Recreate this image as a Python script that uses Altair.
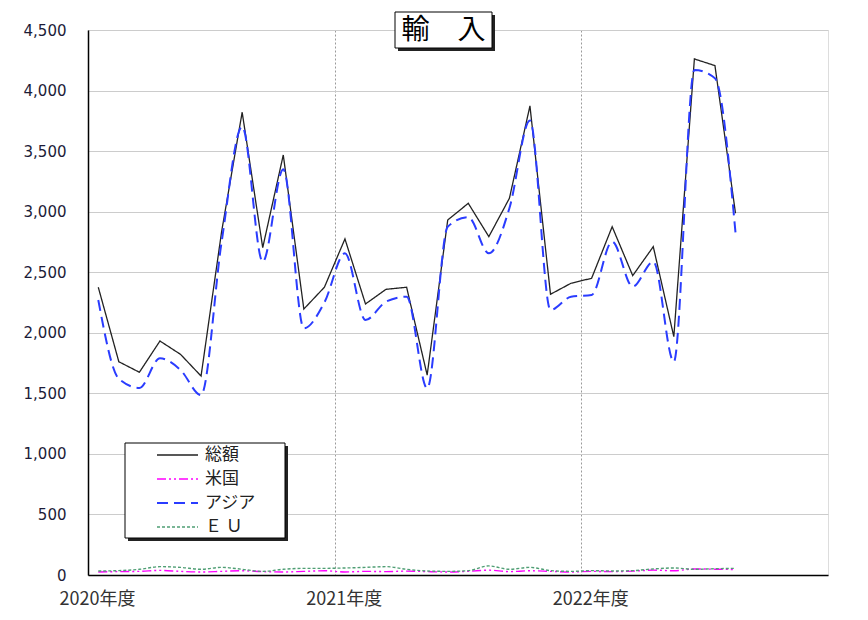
import json
import altair as alt
import pandas as pd

# ---- data (monthly, Apr 2020 .. Nov 2022) ----
months = list(range(32))
total = [2376, 1761, 1674, 1932, 1822, 1643, 2835, 3821, 2703, 3468, 2196, 2376,
         2775, 2238, 2359, 2376, 1651, 2931, 3069, 2794, 3110, 3873, 2318, 2409,
         2450, 2876, 2472, 2711, 1968, 4261, 4206, 2987]
us = [25, 28, 30, 38, 30, 25, 30, 35, 28, 25, 30, 35, 25, 30, 28, 32,
      28, 25, 30, 40, 28, 35, 30, 25, 30, 28, 32, 40, 35, 50, 48, 45]
asia = [2271, 1620, 1545, 1789, 1693, 1486, 2750, 3702, 2587, 3350, 2037, 2250,
        2656, 2106, 2257, 2298, 1542, 2876, 2954, 2656, 3028, 3752, 2188, 2298,
        2312, 2752, 2381, 2587, 1761, 4170, 4101, 2827]
eu = [33, 36, 47, 69, 63, 47, 63, 47, 30, 47, 55, 55, 58, 63, 69, 47,
      33, 30, 36, 75, 47, 63, 36, 30, 36, 33, 36, 50, 58, 47, 52, 55]

series_names = ["総額", "米国", "アジア", "ＥＵ"]
legend_labels = ["総額", "米国", "アジア", "Ｅ Ｕ"]
year_labels = ["2020年度", "2021年度", "2022年度"]
year_ticks = [0, 12, 24]
y_ticks = [0, 500, 1000, 1500, 2000, 2500, 3000, 3500, 4000, 4500]
title_text = "輸　入"

# ---- styles ----
colors = ["#222222", "#ff00ff", "#2a3cff", "#4f9e74"]
dashes = [[1, 0], [9, 3, 2, 3, 2, 3], [11, 6], [3, 2]]
widths = [1.3, 1.4, 2.0, 1.4]
interps = ["linear", "monotone", "monotone", "monotone"]

JP = "Noto Sans CJK JP"

rows = []
for name, vals in zip(series_names, [total, us, asia, eu]):
    for m, v in zip(months, vals):
        rows.append({"x": m + 0.5, "value": v, "series": name})
df = pd.DataFrame(rows)

label_expr = json.dumps(year_labels) + "[round(datum.value / 12)]"

x_enc = alt.X(
    "x:Q",
    scale=alt.Scale(domain=[0, 36], nice=False, zero=False),
    axis=alt.Axis(values=year_ticks, labelExpr=label_expr, title=None, grid=True,
                  gridDash=[2, 2], gridColor="#9a9a9a", gridWidth=1, ticks=False,
                  domainColor="black", domainWidth=1.5, labelFont=JP,
                  labelFontSize=18, labelPadding=15, labelOffset=9,
                  labelColor="#333333", labelFlush=False, labelOverlap=False),
)
y_enc = alt.Y(
    "value:Q",
    scale=alt.Scale(domain=[0, 4500], nice=False),
    axis=alt.Axis(values=y_ticks, format=",.0f", title=None, ticks=False,
                  labelPadding=22, labelFont="DejaVu Sans", labelFontSize=15,
                  labelColor="#1c1c38", grid=True, gridColor="#cccccc",
                  gridWidth=1, domainColor="black", domainWidth=1.5),
)
color_enc = alt.Color("series:N", scale=alt.Scale(domain=series_names, range=colors),
                      legend=None)
dash_enc = alt.StrokeDash("series:N",
                          scale=alt.Scale(domain=series_names, range=dashes),
                          legend=None)

layers = []
for name, w, ip in zip(series_names, widths, interps):
    layers.append(
        alt.Chart(df)
        .transform_filter(alt.datum.series == name)
        .mark_line(strokeWidth=w, interpolate=ip)
        .encode(x=x_enc, y=y_enc, color=color_enc, strokeDash=dash_enc)
    )

one = pd.DataFrame({"k": [0]})

# ---- legend box (with drop shadow) ----
lx0, lx1, ly0, ly1 = 37, 197, 413, 508
layers.append(alt.Chart(one).mark_rect(fill="#222222").encode(
    x=alt.value(lx0 + 3), x2=alt.value(lx1 + 3), y=alt.value(ly0 + 3), y2=alt.value(ly1 + 3)))
layers.append(alt.Chart(one).mark_rect(fill="white", stroke="black", strokeWidth=1).encode(
    x=alt.value(lx0), x2=alt.value(lx1), y=alt.value(ly0), y2=alt.value(ly1)))
row_y = [425, 449, 473, 497]
for lab, c, d, w, yy in zip(legend_labels, colors, dashes, widths, row_y):
    layers.append(alt.Chart(one).mark_rule(color=c, strokeDash=d, strokeWidth=w).encode(
        x=alt.value(69), x2=alt.value(110), y=alt.value(yy)))
    layers.append(alt.Chart(one).mark_text(text=lab, font=JP, fontSize=17, align="left",
                                           baseline="middle", color="#222222").encode(
        x=alt.value(117), y=alt.value(yy)))

# ---- title box (with drop shadow) ----
tx0, tx1, ty0, ty1 = 307, 404, -18, 18
layers.append(alt.Chart(one).mark_rect(fill="#222222").encode(
    x=alt.value(tx0 + 3), x2=alt.value(tx1 + 3), y=alt.value(ty0 + 3), y2=alt.value(ty1 + 3)))
layers.append(alt.Chart(one).mark_rect(fill="white", stroke="black", strokeWidth=1).encode(
    x=alt.value(tx0), x2=alt.value(tx1), y=alt.value(ty0), y2=alt.value(ty1)))
layers.append(alt.Chart(one).mark_text(text=title_text, font=JP, fontSize=28, align="center",
                                       baseline="middle", color="black").encode(
    x=alt.value((tx0 + tx1) / 2), y=alt.value(1)))

chart = (
    alt.layer(*layers)
    .properties(width=740, height=545,
                autosize=alt.AutoSizeParams(type="none"),
                padding={"left": 80, "top": 22, "right": 32, "bottom": 37})
    .configure_view(stroke="black", strokeWidth=1.2)
    .configure(background="white")
)

chart.save("out.html", embed_options={"renderer": "svg", "actions": False})
